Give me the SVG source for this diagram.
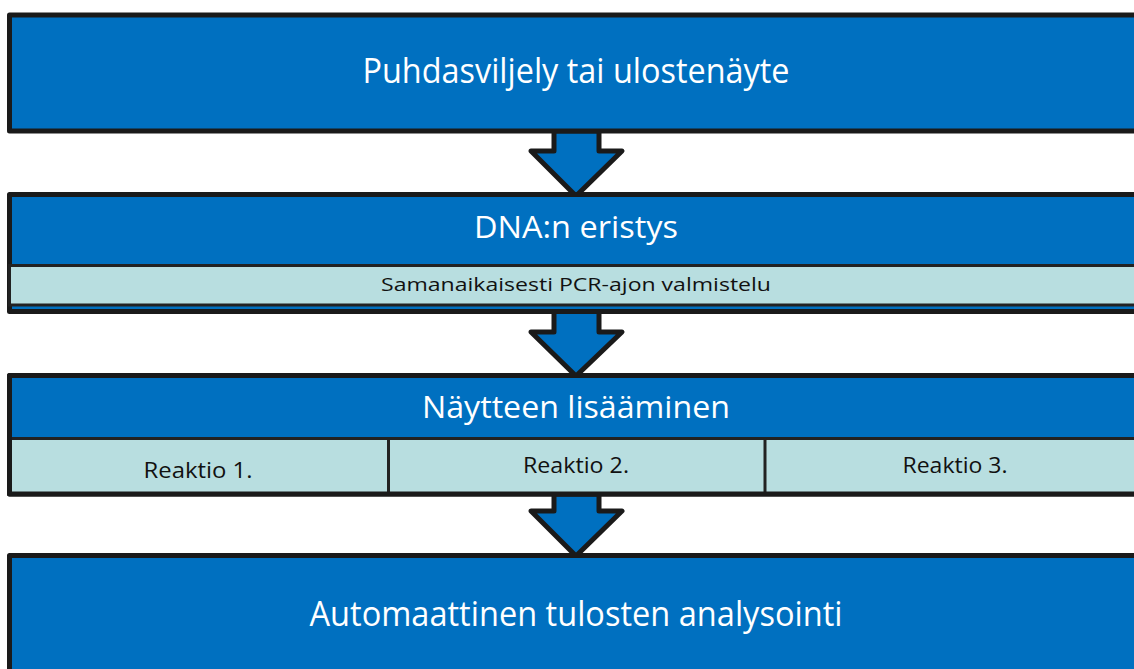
<svg xmlns="http://www.w3.org/2000/svg" width="1134" height="669" viewBox="0 0 1134 669">
<style>
.box{fill:#0070C0;stroke:#1a1a1a;stroke-width:5;stroke-linejoin:round}
.outline{fill:none;stroke:#1a1a1a;stroke-width:5;stroke-linejoin:round}
.bar{fill:#B8DEE0;stroke:#222;stroke-width:3}
.div{stroke:#222;stroke-width:3}
.arrow{fill:#0070C0;stroke:#1a1a1a;stroke-width:5;stroke-linejoin:round}
.big{font-family:"Open Sans","Liberation Sans",sans-serif;fill:#fff;text-anchor:middle}
.small{font-family:"Open Sans","Liberation Sans",sans-serif;fill:#111;text-anchor:middle}
</style>
<rect width="1134" height="669" fill="#fff"/>
<g id="connectors">
<polygon class="arrow" points="554,131 554,151 531,151 576,196 622,151 599,151 599,131"/>
<polygon class="arrow" points="554,309 554,332 531,332 576,376 622,332 599,332 599,309"/>
<polygon class="arrow" points="554,494 554,511 531,511 576,556 622,511 599,511 599,494"/>
</g>
<g id="node1">
<rect class="box" x="9.5" y="15" width="1135" height="116"/>
<text class="big" x="576" y="83" font-size="34" textLength="427" lengthAdjust="spacingAndGlyphs">Puhdasviljely tai ulostenäyte</text>
</g>
<g id="node2">
<rect class="box" x="9.5" y="194.5" width="1135" height="117"/>
<rect class="bar" x="9.5" y="265.5" width="1135" height="39.5"/>
<text class="big" x="576" y="238" font-size="31" textLength="204" lengthAdjust="spacingAndGlyphs">DNA:n eristys</text>
<text class="small" x="576" y="291" font-size="19" textLength="390" lengthAdjust="spacingAndGlyphs">Samanaikaisesti PCR-ajon valmistelu</text>
</g>
<g id="node3">
<rect class="box" x="9.5" y="375.5" width="1135" height="118.5"/>
<rect class="bar" x="9.5" y="438.5" width="1135" height="55.5"/>
<line class="div" x1="388.5" y1="438.5" x2="388.5" y2="494"/>
<line class="div" x1="765" y1="438.5" x2="765" y2="494"/>
<rect class="outline" x="9.5" y="375.5" width="1135" height="118.5"/>
<text class="big" x="576" y="418" font-size="31" textLength="308" lengthAdjust="spacingAndGlyphs">Näytteen lisääminen</text>
<text class="small" x="198" y="478" font-size="21" textLength="109" lengthAdjust="spacingAndGlyphs">Reaktio 1.</text>
<text class="small" x="576" y="473" font-size="21" textLength="106" lengthAdjust="spacingAndGlyphs">Reaktio 2.</text>
<text class="small" x="955" y="473" font-size="21" textLength="105" lengthAdjust="spacingAndGlyphs">Reaktio 3.</text>
</g>
<g id="node4">
<rect class="box" x="9.5" y="555.5" width="1135" height="130"/>
<text class="big" x="576" y="626" font-size="34" textLength="533" lengthAdjust="spacingAndGlyphs">Automaattinen tulosten analysointi</text>
</g>
</svg>
